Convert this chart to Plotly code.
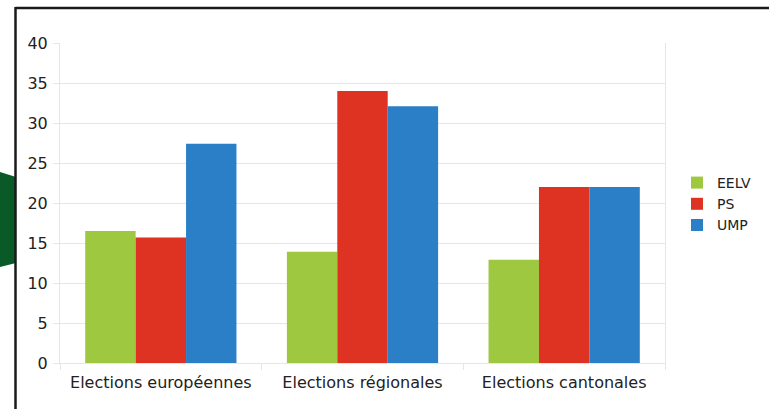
import plotly.graph_objects as go

categories = ["Elections européennes", "Elections régionales", "Elections cantonales"]
series_names = ["EELV", "PS", "UMP"]
eelv = [16.5, 13.9, 12.9]
ps = [15.7, 34.0, 22.0]
ump = [27.4, 32.1, 22.0]
y_ticks = [0, 5, 10, 15, 20, 25, 30, 35, 40]

colors = ["#9dc83f", "#de3223", "#2b7fc6"]

W, H = 769, 409
L, R, T, B = 60, 104, 43, 46
PW, PH = W - L - R, H - T - B


def px(x):
    return (x - L) / PW


def py(y):
    return (H - B - y) / PH


fig = go.Figure()
for name, vals, col in zip(series_names, [eelv, ps, ump], colors):
    fig.add_trace(go.Bar(x=categories, y=vals, name=name, marker=dict(color=col, line=dict(width=0))))

font = "DejaVu Sans"
grid = "#e6e6e6"
txt = "#222222"

green_pts = [(0, 172), (16, 177), (16, 263), (0, 267)]
path = "M " + " L ".join(f"{px(a)},{py(b)}" for a, b in green_pts) + " Z"

fig.update_layout(
    width=W, height=H, autosize=False,
    margin=dict(l=L, r=R, t=T, b=B),
    paper_bgcolor="white", plot_bgcolor="white",
    barmode="group", bargap=0.25, bargroupgap=0,
    font=dict(family=font, size=15, color=txt),
    showlegend=True,
    legend=dict(x=px(677), y=py(167), xanchor="left", yanchor="top",
                font=dict(family=font, size=14, color=txt),
                bgcolor="rgba(0,0,0,0)", borderwidth=0, itemwidth=30),
    xaxis=dict(showgrid=False, showline=True, linecolor=grid, linewidth=1,
               ticks="outside", tickson="boundaries", ticklen=6, tickcolor=grid,
               ticklabelstandoff=5, tickfont=dict(family=font, size=16, color=txt)),
    yaxis=dict(range=[0, 40], tickvals=y_ticks, showgrid=True, gridcolor=grid, gridwidth=1,
               zeroline=False, showline=True, linecolor=grid, linewidth=1, mirror=True,
               ticks="outside", ticklen=6, tickcolor=grid, ticklabelstandoff=2,
               tickfont=dict(family=font, size=16, color=txt)),
    shapes=[
        dict(type="path", xref="paper", yref="paper", path=path,
             fillcolor="#0a5a28", line=dict(width=0), layer="above"),
        dict(type="line", xref="paper", yref="paper", x0=px(15.5), x1=px(W + 5), y0=py(8), y1=py(8),
             line=dict(color="#1a1a1a", width=2.5), layer="above"),
        dict(type="line", xref="paper", yref="paper", x0=px(15.5), x1=px(15.5), y0=py(7), y1=py(H + 5),
             line=dict(color="#1a1a1a", width=2.5), layer="above"),
    ],
)

fig.write_html("out.html", config={"displayModeBar": False},
               post_script="document.body.style.margin='0';document.body.style.overflow='hidden';")
